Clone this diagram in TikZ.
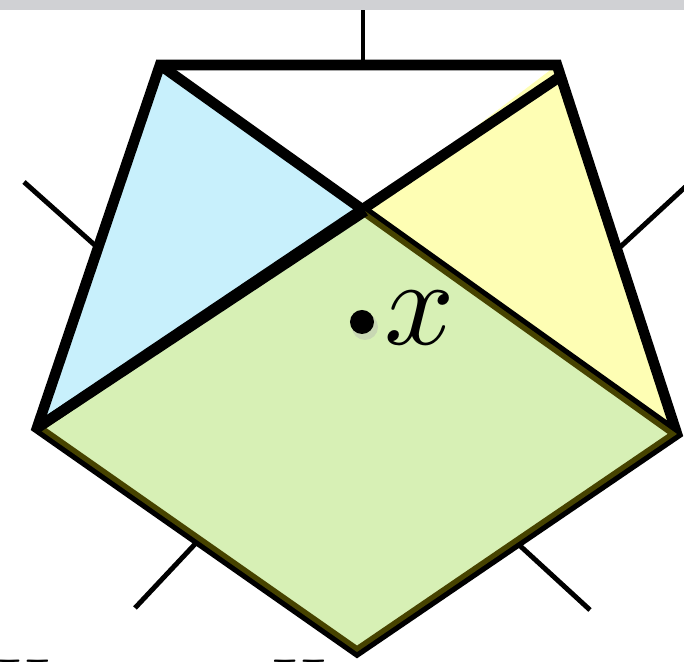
\documentclass[tikz,border=0pt]{standalone}
\usepackage{xcolor}
\definecolor{paneblue}{RGB}{200,240,252}
\definecolor{paneyellow}{RGB}{254,254,180}
\definecolor{barfill}{RGB}{208,209,212}
\tikzset{
  edge/.style={line width=3pt,line join=miter},
  leg/.style={line width=1.4pt},
  overlay tint/.style={fill=yellow,fill opacity=0.28}
}
\begin{document}
\begin{tikzpicture}[x=0.01cm,y=-0.01cm]
\useasboundingbox (0,0) rectangle (684,662);
\clip (0,0) rectangle (684,662);
% corners of the pentagon
\coordinate (tl) at (160,65);
\coordinate (tr) at (557,65);
\coordinate (trd) at (558,78);
\coordinate (rt) at (677,434);
\coordinate (bt) at (357,652);
\coordinate (lf) at (37,428);
\coordinate (ctr) at (365,211);
% coloured panes
\fill[paneblue] (tl) -- (lf) -- (bt) -- (rt) -- cycle;
\fill[paneyellow] (tr) -- (rt) -- (ctr) -- cycle;
% legs
\draw[leg] (363,65) -- (363,5);
\draw[leg] (98,248) -- (24,182);
\draw[leg] (617,250) -- (695,178);
\draw[leg] (197,542) -- (135,608);
\draw[leg] (517,543) -- (590,610);
% outline and diagonals
\draw[edge] (tl) -- (tr) -- (rt) -- (bt) -- (lf) -- cycle;
\draw[edge] (tl) -- (rt);
\draw[edge] (trd) -- (lf);
\fill[overlay tint] (ctr) -- (lf) -- (bt) -- (rt) -- cycle;
\draw[edge] (ctr) -- (lf);
\fill[barfill] (0,0) rectangle (684,10);
% point
\fill[black!30,opacity=0.4] (365,327) circle (13);
\fill (362,322) circle (12);
\node[right,inner sep=0,scale=3.5] (xlab) at (382,318) {$x$};
% labels below, cut by the edge
\node[anchor=north,inner sep=0,scale=2.1] (h1) at (17,659) {$H$};
\node[anchor=north,inner sep=0,scale=2.1] (h2) at (293,659) {$H$};
\end{tikzpicture}
\end{document}
